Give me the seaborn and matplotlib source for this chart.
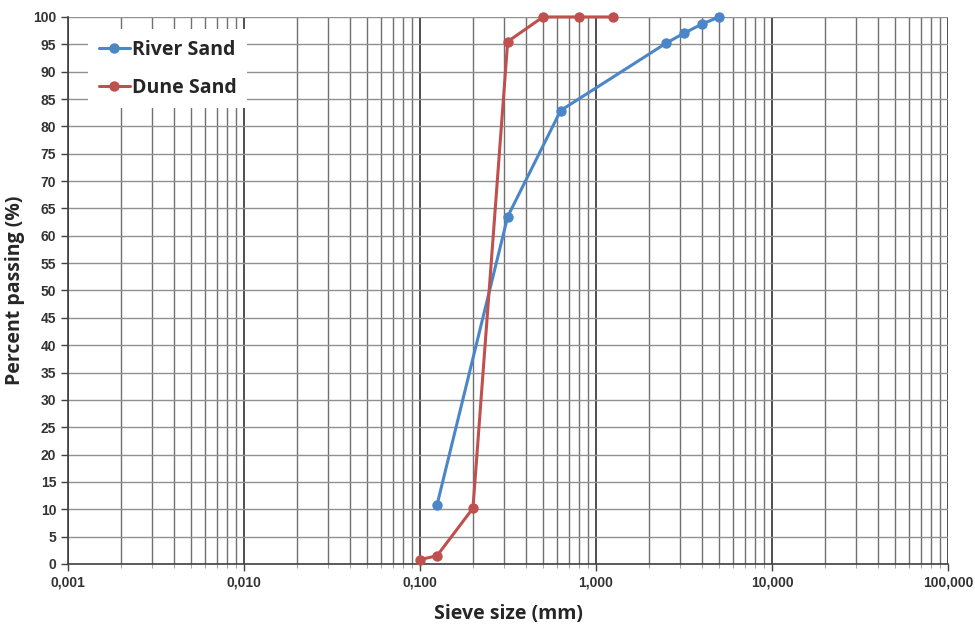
import numpy as np
import pandas as pd
import matplotlib
matplotlib.use("Agg")
import matplotlib.pyplot as plt
import seaborn as sns
from matplotlib.ticker import LogLocator, FixedLocator, FuncFormatter

# Sieve analysis data
river_size = [0.125, 0.315, 0.63, 2.5, 3.15, 4.0, 5.0]
river_pass = [10.8, 63.5, 82.9, 95.2, 97.0, 98.7, 100.0]

dune_size = [0.1, 0.125, 0.2, 0.315, 0.5, 0.8, 1.25]
dune_pass = [0.8, 1.5, 10.2, 95.5, 100.0, 100.0, 100.0]

x_ticks = [0.001, 0.01, 0.1, 1, 10, 100]
y_ticks = list(range(0, 101, 5))

df = pd.concat([
    pd.DataFrame({"size": river_size, "passing": river_pass, "sample": "River Sand"}),
    pd.DataFrame({"size": dune_size, "passing": dune_pass, "sample": "Dune Sand"}),
])

sns.set_style("white")
plt.rcParams["font.family"] = ["Liberation Sans", "DejaVu Sans"]

fig = plt.figure(figsize=(9.75, 6.24), dpi=100)
ax = fig.add_axes([0.0697, 0.0962, 0.9026, 0.8766])

sns.lineplot(data=df, x="size", y="passing", hue="sample",
             palette={"River Sand": "#4a86c8", "Dune Sand": "#c0504d"},
             marker="o", markersize=7.5, markeredgewidth=0, linewidth=2.2,
             sort=False, ax=ax, zorder=5, clip_on=False)

ax.set_xscale("log")
ax.set_xlim(0.001, 100)
ax.set_ylim(0, 100)

ax.xaxis.set_major_locator(FixedLocator(x_ticks))
ax.xaxis.set_minor_locator(LogLocator(base=10, subs=np.arange(2, 10)))
ax.xaxis.set_major_formatter(FuncFormatter(lambda v, p: f"{v:.3f}".replace(".", ",")))
ax.xaxis.set_minor_formatter(FuncFormatter(lambda v, p: ""))
ax.set_yticks(y_ticks)

ax.grid(which="major", axis="x", color="#303030", linewidth=1.2)
ax.grid(which="minor", axis="x", color="#707070", linewidth=1.0)
ax.grid(which="major", axis="y", color="#909090", linewidth=1.0)
ax.set_axisbelow(True)

for s in ["top", "right"]:
    ax.spines[s].set_visible(False)
for s in ["left", "bottom"]:
    ax.spines[s].set_color("#404040")
    ax.spines[s].set_linewidth(1.2)

ax.tick_params(axis="both", which="major", labelsize=10, colors="#404040",
               length=5, width=1, direction="out", left=True, bottom=True)
ax.tick_params(axis="x", which="minor", length=3, bottom=True, color="#909090")
for lbl in ax.get_xticklabels() + ax.get_yticklabels():
    lbl.set_fontweight("bold")
    lbl.set_color("#333333")

ax.set_xlabel("Sieve size (mm)", fontsize=14, fontweight="bold",
              family=["Open Sans", "DejaVu Sans"], labelpad=10)
ax.set_ylabel("Percent passing (%)", fontsize=14, fontweight="bold",
              family=["Open Sans", "DejaVu Sans"], labelpad=6)

leg = ax.legend(loc="upper left", bbox_to_anchor=(0.012, 0.995), frameon=True,
                fancybox=False, framealpha=1.0, edgecolor="white",
                prop={"family": ["Open Sans", "DejaVu Sans"], "weight": "bold", "size": 14},
                handlelength=1.6, handletextpad=0.1, labelspacing=0.9,
                borderpad=0.55)
leg.get_frame().set_linewidth(0)

fig.savefig("out.png", dpi=100)
